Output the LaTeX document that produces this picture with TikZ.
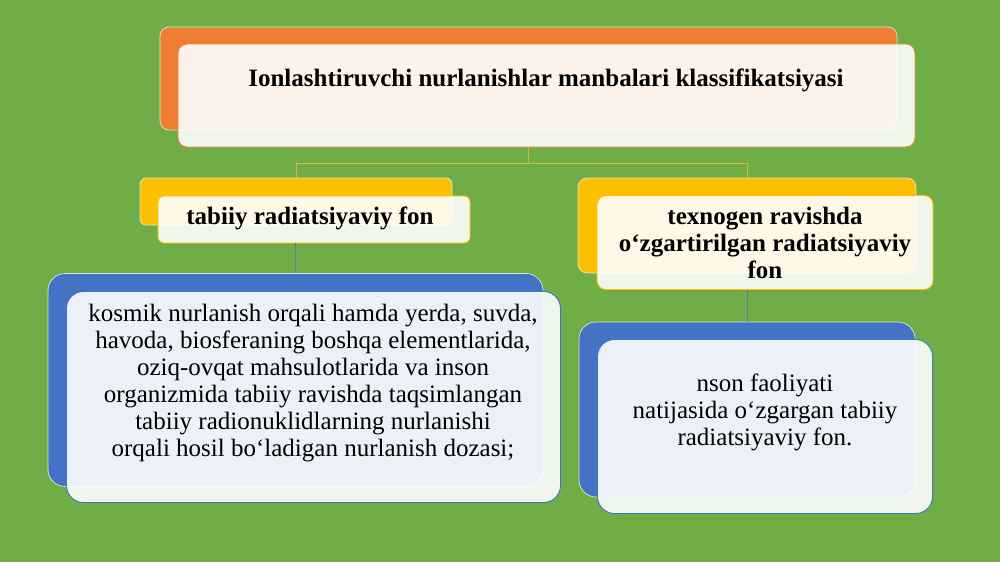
\documentclass[tikz,border=0pt]{standalone}
\usepackage{fontspec}
\setmainfont{Liberation Serif}
\usepackage{xcolor}
\usepackage{tikz}

\definecolor{slidegreen}{HTML}{70AD47}
\definecolor{accOrange}{HTML}{ED7D31}
\definecolor{accYellow}{HTML}{FFC000}
\definecolor{accBlue}{HTML}{4472C4}
\definecolor{linkYellow}{HTML}{D6B838}
\definecolor{linkBlue}{HTML}{5B7DAE}

\tikzset{
  backbox/.style={rectangle, rounded corners=#1, draw=white!75!slidegreen, line width=0.7pt, inner sep=0pt},
  frontbox/.style={rectangle, rounded corners=#1, fill=white, fill opacity=0.9, line width=0.9pt, inner sep=0pt},
  boldtxt/.style={font=\fontsize{25}{27}\selectfont\bfseries, align=center, inner sep=0pt},
  plaintxt/.style={font=\fontsize{25}{27}\selectfont, align=center, inner sep=0pt},
  linkup/.style={draw=linkYellow, line width=0.9pt},
  linkdown/.style={draw=linkBlue, line width=0.9pt}
}

\begin{document}
\begin{tikzpicture}[x=1pt,y=-1pt]
                \fill[slidegreen] (0,0) rectangle (1000,562);
                \useasboundingbox (0,0) rectangle (1000,562);

                % title
                \node[backbox=9pt, fill=accOrange, minimum width=737pt, minimum height=103pt] (titleBack) at (528.5,78.5) {};
                \node[frontbox=9pt, draw=accOrange, minimum width=737pt, minimum height=103pt] (titleFront) at ([shift={(18,17)}]titleBack.center) {};

                % second level
                \node[backbox=6pt, fill=accYellow, minimum width=312pt, minimum height=47pt] (tabiiyBack) at (296,201.5) {};
                \node[frontbox=6pt, draw=accYellow, minimum width=312pt, minimum height=47pt] (tabiiyFront) at ([shift={(18,18)}]tabiiyBack.center) {};
                \node[backbox=9pt, fill=accYellow, minimum width=338pt, minimum height=95pt] (texnoBack) at (747,225.5) {};
                \node[frontbox=9pt, draw=accYellow, minimum width=336pt, minimum height=94pt] (texnoFront) at ([shift={(18,17)}]texnoBack.center) {};

                % third level
                \node[backbox=17pt, fill=accBlue, minimum width=495pt, minimum height=213pt] (kosmikBack) at (295.5,380) {};
                \node[frontbox=17pt, draw=accBlue, minimum width=494pt, minimum height=211pt] (kosmikFront) at ([shift={(18,17)}]kosmikBack.center) {};
                \node[backbox=17pt, fill=accBlue, minimum width=336pt, minimum height=175pt] (insonBack) at (747,409.5) {};
                \node[frontbox=17pt, draw=accBlue, minimum width=335pt, minimum height=174pt] (insonFront) at ([shift={(18,17)}]insonBack.center) {};

                % connectors
                \draw[linkup] (titleBack.south |- titleFront.south) -- ++(0,16) coordinate (fork);
                \draw[linkup] (tabiiyBack.north) |- (fork) -| (texnoBack.north);
                \draw[linkdown] (kosmikBack.north |- tabiiyFront.south) -- (kosmikBack.north);
                \draw[linkdown] (insonBack.north |- texnoFront.south) -- (insonBack.north);

                % texts
                \node[boldtxt] (titleTxt) at (546,80) {Ionlashtiruvchi nurlanishlar manbalari klassifikatsiyasi};
                \node[boldtxt] (tabiiyTxt) at (310,218) {tabiiy radiatsiyaviy fon};
                \node[boldtxt] (texnoTxt) at (765,243) {texnogen ravishda\\o‘zgartirilgan radiatsiyaviy\\fon};
                \node[plaintxt] (kosmikTxt) at (313,383) {kosmik nurlanish orqali hamda yerda, suvda,\\havoda, biosferaning boshqa elementlarida,\\oziq-ovqat mahsulotlarida va inson\\organizmida tabiiy ravishda taqsimlangan\\tabiiy radionuklidlarning nurlanishi\\orqali hosil bo‘ladigan nurlanish dozasi;};
                \node[plaintxt] (insonTxt) at (765,412) {nson faoliyati\\natijasida o‘zgargan tabiiy\\radiatsiyaviy fon.};
            \end{tikzpicture}
\end{document}
